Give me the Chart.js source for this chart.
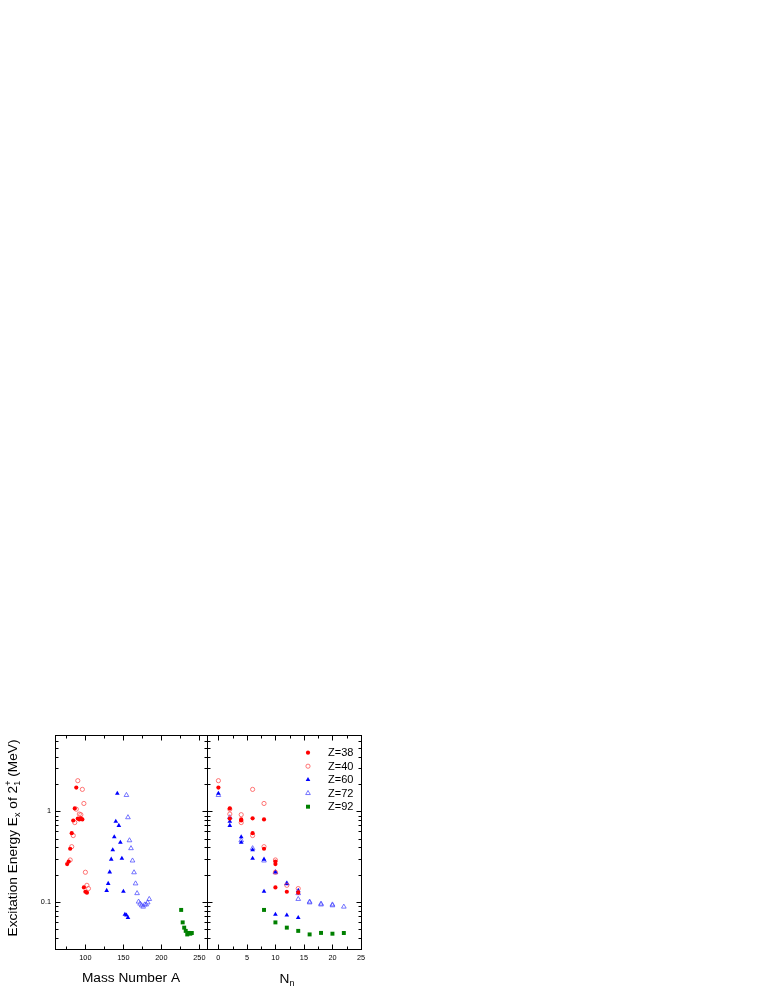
<!DOCTYPE html>
<html><head><meta charset="utf-8">
<script src="https://cdn.jsdelivr.net/npm/chart.js@4.4.1/dist/chart.umd.min.js"></script>
<style>
html,body{margin:0;padding:0;background:#fff;}
body{width:763px;height:987px;position:relative;overflow:hidden;}
canvas{position:absolute;left:0;top:700px;}
</style></head><body>
<canvas id="leftChart" width="370" height="287"></canvas>
<canvas id="rightChart" width="370" height="287"></canvas>
<script>
// ---------- data ----------
const seriesLabels = ['Z=38', 'Z=40', 'Z=60', 'Z=72', 'Z=92'];

const massZ38   = [76, 78, 80, 82, 84, 86, 88, 90, 92, 94, 96, 98, 100, 102];
const energyZ38 = [0.261, 0.278, 0.386, 0.574, 0.793, 1.077, 1.836, 0.832, 0.815, 0.837, 0.815, 0.144, 0.129, 0.126];
const nnZ38     = [10, 10, 8, 6, 4, 2, 0, 2, 4, 6, 8, 10, 12, 14];

const massZ40   = [80, 82, 84, 86, 88, 90, 92, 94, 96, 98, 100, 102, 104];
const energyZ40 = [0.290, 0.407, 0.540, 0.752, 1.057, 2.186, 0.934, 0.919, 1.751, 1.223, 0.212, 0.152, 0.140];
const nnZ40     = [10, 8, 6, 4, 2, 0, 2, 4, 6, 8, 10, 12, 14];

const massZ60   = [128, 130, 132, 134, 136, 138, 140, 142, 144, 146, 148, 150, 152, 154, 156];
const energyZ60 = [0.133, 0.159, 0.213, 0.295, 0.374, 0.521, 0.774, 1.576, 0.697, 0.454, 0.302, 0.130, 0.0725, 0.0709, 0.0668];
const nnZ60     = [14, 12, 10, 8, 6, 4, 2, 0, 2, 4, 6, 8, 10, 12, 14];

const massZ72   = [154, 156, 158, 160, 162, 164, 166, 168, 170, 172, 174, 176, 178, 180, 182, 184];
const energyZ72 = [1.513, 0.858, 0.477, 0.390, 0.285, 0.211, 0.159, 0.124, 0.100, 0.095, 0.091, 0.088, 0.093, 0.093, 0.098, 0.107];
const nnZ72     = [0, 2, 4, 6, 8, 10, 12, 14, 16, 18, 20, 22, 20, 18, 16, 14];

const massZ92   = [226, 228, 230, 232, 234, 236, 238, 240];
const energyZ92 = [0.0812, 0.0591, 0.0517, 0.0476, 0.0435, 0.0452, 0.0443, 0.0451];
const nnZ92     = [8, 10, 12, 14, 16, 18, 20, 22];

const xTicksLeft  = [100, 150, 200, 250];
const xMinorLeft  = [75, 125, 175, 225];
const xTicksRight = [0, 5, 10, 15, 20, 25];
const xMinorRight = [2.5, 7.5, 12.5, 17.5, 22.5];
const yTicks = [0.1, 1];
const yMinor = [0.04, 0.05, 0.06, 0.07, 0.08, 0.09, 0.2, 0.3, 0.4, 0.5, 0.6, 0.7, 0.8, 0.9, 2, 3, 4, 5, 6];

// ---------- styles ----------
const FONT = 'Arial, "Liberation Sans", sans-serif';
const styles = [
  {pointStyle: 'circle',   radius: 2.1, bg: '#ff0000',       border: '#ff0000', bw: 0},
  {pointStyle: 'circle',   radius: 2.1, bg: 'rgba(0,0,0,0)', border: '#ff4a4a', bw: 0.75},
  {pointStyle: 'triangle', radius: 2.7, bg: '#0000ff',       border: '#0000ff', bw: 0},
  {pointStyle: 'triangle', radius: 2.7, bg: 'rgba(0,0,0,0)', border: '#4a4aff', bw: 0.75},
  {pointStyle: 'rect',     radius: 2.8, bg: '#008000',       border: '#008000', bw: 0}
];

const massSets   = [massZ38, massZ40, massZ60, massZ72, massZ92];
const energySets = [energyZ38, energyZ40, energyZ60, energyZ72, energyZ92];
const nnSets     = [nnZ38, nnZ40, nnZ60, nnZ72, nnZ92];

function makeDatasets(xSets) {
  return seriesLabels.map((lab, k) => ({
    label: lab,
    data: xSets[k].map((xv, i) => ({x: xv, y: energySets[k][i]})),
    showLine: false,
    pointStyle: styles[k].pointStyle,
    pointRadius: styles[k].radius,
    pointHoverRadius: styles[k].radius,
    pointBackgroundColor: styles[k].bg,
    pointBorderColor: styles[k].border,
    pointBorderWidth: styles[k].bw,
    order: k
  }));
}

function line(ctx, x1, y1, x2, y2) {
  ctx.beginPath(); ctx.moveTo(x1, y1); ctx.lineTo(x2, y2); ctx.stroke();
}

function frameTicksPlugin(cfg) {
  return {
    id: 'frameTicks',
    afterDraw(chart) {
      const ctx = chart.ctx, a = chart.chartArea;
      const xs = chart.scales.x, ys = chart.scales.y;
      const L = Math.round(a.left) + 0.5, R = Math.round(a.right) + 0.5;
      const T = Math.round(a.top) + 0.5, B = Math.round(a.bottom) + 0.5;
      ctx.save();
      ctx.strokeStyle = '#000'; ctx.lineWidth = 1;
      ctx.strokeRect(L, T, R - L, B - T);
      const xt = (vals, len) => vals.forEach(v => {
        const p = Math.round(xs.getPixelForValue(v)) + 0.5;
        if (p <= L + 0.1 || p >= R - 0.1) return;
        line(ctx, p, B, p, B - len); line(ctx, p, T, p, T + len);
      });
      const yt = (vals, len) => vals.forEach(v => {
        const p = Math.round(ys.getPixelForValue(v)) + 0.5;
        line(ctx, L, p, L + len, p); line(ctx, R, p, R - len, p);
      });
      xt(cfg.xMajor, 5); xt(cfg.xMinor, 3);
      yt(yTicks, 5); yt(yMinor, 3);
      ctx.restore();
    }
  };
}

const yTitlePlugin = {
  id: 'yTitle',
  afterDraw(chart) {
    const ctx = chart.ctx;
    const big = '13.7px ' + FONT, small = '9px ' + FONT;
    const segs = [
      {t: 'Excitation Energy E', f: big, dy: 0},
      {t: 'x', f: small, dy: 3},
      {t: ' of 2', f: big, dy: 0},
      {stack: [{t: '+', f: small, dy: -6}, {t: '1', f: small, dy: 3}]},
      {t: ' (MeV)', f: big, dy: 0}
    ];
    ctx.save();
    let total = 0;
    segs.forEach(s => {
      if (s.stack) { s.w = Math.max(...s.stack.map(q => { ctx.font = q.f; return ctx.measureText(q.t).width; })); }
      else { ctx.font = s.f; s.w = ctx.measureText(s.t).width; }
      total += s.w;
    });
    ctx.translate(12, 838 - 700);
    ctx.rotate(-Math.PI / 2);
    ctx.fillStyle = '#000';
    ctx.textBaseline = 'alphabetic';
    ctx.textAlign = 'left';
    let x = -total / 2;
    const base = 5;
    segs.forEach(s => {
      if (s.stack) s.stack.forEach(q => { ctx.font = q.f; ctx.fillText(q.t, x, base + q.dy); });
      else { ctx.font = s.f; ctx.fillText(s.t, x, base + s.dy); }
      x += s.w;
    });
    ctx.restore();
  }
};

const rightExtrasPlugin = {
  id: 'rightExtras',
  afterDraw(chart) {
    const ctx = chart.ctx, a = chart.chartArea;
    ctx.save();
    // x axis title N_n
    const big = '13.7px ' + FONT, small = '9px ' + FONT;
    ctx.font = big; const wN = ctx.measureText('N').width;
    ctx.font = small; const wn = ctx.measureText('n').width;
    const cx = (a.left + a.right) / 2 + 3;
    let x0 = cx - (wN + wn) / 2;
    ctx.fillStyle = '#000'; ctx.textAlign = 'left'; ctx.textBaseline = 'alphabetic';
    ctx.font = big; ctx.fillText('N', x0, 983 - 700);
    ctx.font = small; ctx.fillText('n', x0 + wN, 986 - 700);
    // legend
    chart.data.datasets.forEach((ds, i) => {
      const my = 52.7 + i * 13.5;
      const mx = 308;
      ctx.fillStyle = ds.pointBackgroundColor;
      ctx.strokeStyle = ds.pointBorderColor;
      ctx.lineWidth = ds.pointBorderWidth;
      Chart.helpers.drawPoint(ctx, {pointStyle: ds.pointStyle, radius: ds.pointRadius, rotation: 0, borderWidth: ds.pointBorderWidth}, mx, my);
      ctx.fillStyle = '#000';
      ctx.font = '11px ' + FONT;
      ctx.textBaseline = 'middle';
      ctx.fillText(ds.label, 328, my + 0.5);
    });
    ctx.restore();
  }
};

function noGrid() { return {display: false, drawTicks: false}; }

new Chart(document.getElementById('leftChart'), {
  type: 'scatter',
  data: {datasets: makeDatasets(massSets)},
  options: {
    responsive: false, animation: false, devicePixelRatio: 1,
    layout: {padding: {left: 0, right: 370 - 207, top: 35, bottom: 0}},
    plugins: {legend: {display: false}, tooltip: {enabled: false}},
    scales: {
      x: {
        type: 'linear', min: 60, max: 260, position: 'bottom',
        grid: noGrid(), border: {display: false},
        ticks: {font: {size: 7.3, family: FONT}, color: '#000', padding: 5, maxRotation: 0, autoSkip: false, callback: v => String(v)},
        afterBuildTicks: s => { s.ticks = xTicksLeft.map(v => ({value: v})); },
        afterFit: s => { s.height = 38; },
        title: {display: true, text: 'Mass Number A', color: '#000', font: {size: 13.7, family: FONT}, padding: {top: 0, bottom: 1}}
      },
      y: {
        type: 'logarithmic', min: 0.03, max: 7, position: 'left',
        grid: noGrid(), border: {display: false},
        ticks: {font: {size: 7.3, family: FONT}, color: '#000', padding: 4, autoSkip: false, callback: v => String(v)},
        afterBuildTicks: s => { s.ticks = yTicks.map(v => ({value: v})); },
        afterFit: s => { s.width = 55; }
      }
    }
  },
  plugins: [frameTicksPlugin({xMajor: xTicksLeft, xMinor: xMinorLeft}), yTitlePlugin]
});

new Chart(document.getElementById('rightChart'), {
  type: 'scatter',
  data: {datasets: makeDatasets(nnSets)},
  options: {
    responsive: false, animation: false, devicePixelRatio: 1,
    layout: {padding: {left: 207, right: 370 - 361, top: 35, bottom: 0}},
    plugins: {legend: {display: false}, tooltip: {enabled: false}},
    scales: {
      x: {
        type: 'linear', min: -2, max: 25, position: 'bottom',
        grid: noGrid(), border: {display: false},
        ticks: {font: {size: 7.3, family: FONT}, color: '#000', padding: 5, maxRotation: 0, autoSkip: false, callback: v => String(v)},
        afterBuildTicks: s => { s.ticks = xTicksRight.map(v => ({value: v})); },
        afterFit: s => { s.height = 38; }
      },
      y: {
        type: 'logarithmic', min: 0.03, max: 7, position: 'left', display: false,
        grid: noGrid()
      }
    }
  },
  plugins: [frameTicksPlugin({xMajor: xTicksRight, xMinor: xMinorRight}), rightExtrasPlugin]
});
</script>
</body></html>
